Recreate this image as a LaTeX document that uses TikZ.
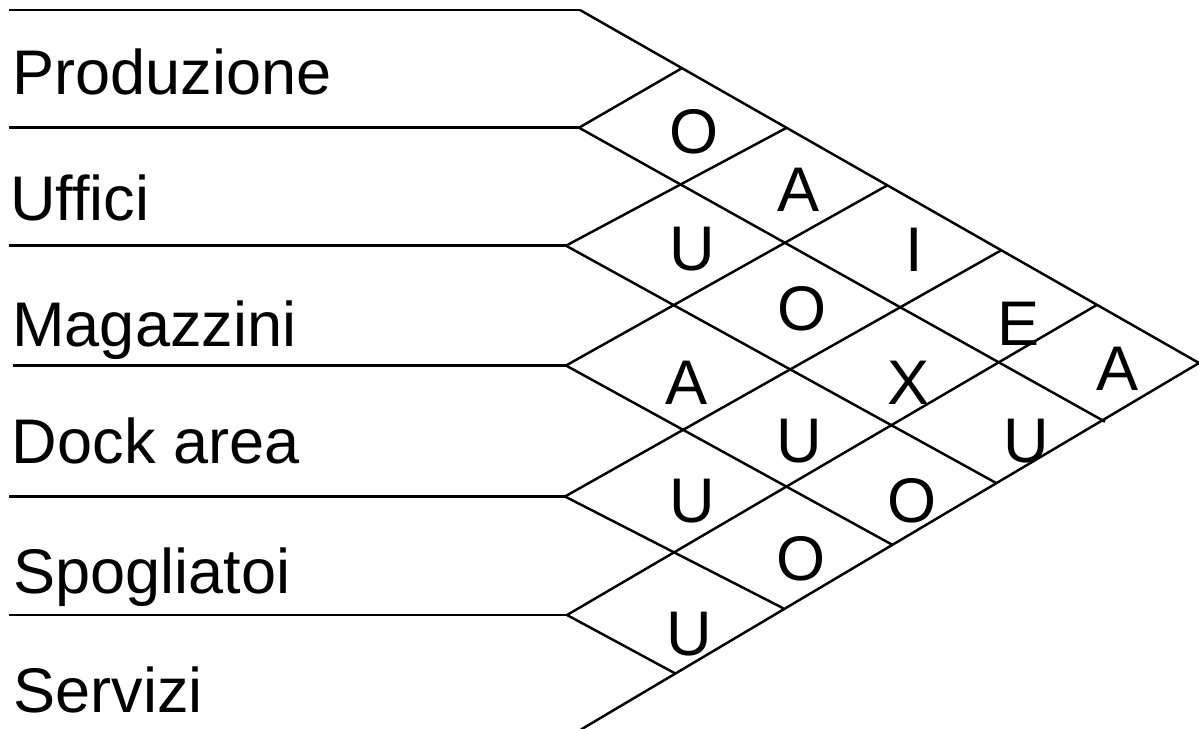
\documentclass[tikz,border=0pt]{standalone}
\usepackage{fontspec}
\setmainfont{Liberation Sans}[Ligatures={NoCommon}]
\begin{document}
\begin{tikzpicture}[x=0.02cm,y=-0.02cm,
  rule/.style={line width=1.4pt, line cap=butt},
  dept/.style={anchor=base west, inner sep=0pt, font=\fontsize{35.9}{40}\selectfont},
  rel/.style={anchor=base, inner sep=0pt, font=\fontsize{35.9}{40}\selectfont}]
\clip (0,0) rectangle (1199,728);

% left ends of the row rules
\coordinate (s0) at (9,10);
\coordinate (s1) at (9,127.7);
\coordinate (s2) at (9,245.7);
\coordinate (s3) at (13,365.5);
\coordinate (s4) at (9,496.5);
\coordinate (s5) at (9,615);
% right ends of the row rules, where the diagonals start
\coordinate (L0) at (580,10);
\coordinate (L1) at (579,127.7);
\coordinate (L2) at (566,245.7);
\coordinate (L3) at (566,365.5);
\coordinate (L4) at (565,496.5);
\coordinate (L5) at (567,615);
\coordinate (L6) at (581,729.5);
% tip of the triangle
\coordinate (apex) at (1199,363);
% ends of the falling diagonals (on the lower edge)
\coordinate (d1) at (1105,421.7);
\coordinate (d2) at (996.7,483.3);
\coordinate (d3) at (892,544.6);
\coordinate (d4) at (783.3,608.3);
\coordinate (d5) at (675,673.3);
% ends of the rising diagonals (on the upper edge)
\coordinate (u1) at (681.7,68.3);
\coordinate (u2) at (786.7,127.7);
\coordinate (u3) at (887,185.5);
\coordinate (u4) at (1001.7,250);
\coordinate (u5) at (1096.7,305);

% row rules
\foreach \i in {0,...,5}
  \draw[rule] (s\i) -- (L\i);

% outer edges of the chart
\draw[rule] (L0) -- (apex);
\draw[rule] (L6) -- (apex);

% grid diagonals
\foreach \i in {1,...,5} {
  \draw[rule] (L\i) -- (d\i);
  \draw[rule] (L\i) -- (u\i);
}

% department names
\node[dept] (prod) at (12,94.3)  {Produzione};
\node[dept] (uff)  at (10,220.5) {Uffici};
\node[dept] (mag)  at (12,346)   {Magazzini};
\node[dept] (dock) at (11.6,463.3) {Dock area};
\node[dept] (spo)  at (13,593.5) {Spogliatoi};
\node[dept] (serv) at (13,712.7) {Servizi};

% closeness ratings
\node[rel] (r12) at (694,153.5)   {O};
\node[rel] (r13) at (798.3,211.7) {A};
\node[rel] (r14) at (914,271)     {I};
\node[rel] (r15) at (1019,345)    {E};
\node[rel] (r16) at (1117.3,390)  {A};
\node[rel] (r23) at (692.5,270)   {U};
\node[rel] (r24) at (801.7,330)   {O};
\node[rel] (r25) at (908.8,404)   {X};
\node[rel] (r26) at (1025.8,462)  {U};
\node[rel] (r34) at (686.7,404)   {A};
\node[rel] (r35) at (799.2,462)   {U};
\node[rel] (r36) at (912.5,522)   {O};
\node[rel] (r45) at (692.5,522)   {U};
\node[rel] (r46) at (801.3,580)   {O};
\node[rel] (r56) at (689.2,655)   {U};
\end{tikzpicture}
\end{document}
